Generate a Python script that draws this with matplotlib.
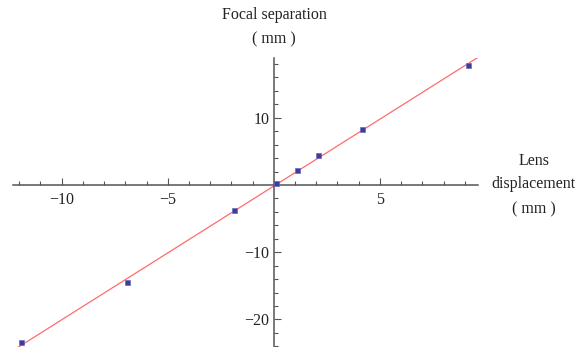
import matplotlib
matplotlib.use("Agg")
import matplotlib.pyplot as plt
from matplotlib.ticker import MultipleLocator, FixedLocator

plt.rcParams['font.family'] = ['Liberation Serif', 'DejaVu Serif']

# Measured data: lens displacement vs focal separation (mm)
lens_disp = [-11.9, -6.9, -1.9, 0.1, 1.1, 2.1, 4.15, 9.15]
focal_sep = [-23.4, -14.5, -3.65, 0.25, 2.25, 4.45, 8.35, 17.9]

# Linear fit parameters
fit_slope = 1.99
fit_intercept = -0.15

x_ticks = [-10, -5, 5]
y_ticks = [-20, -10, 10]

xlim = (-12.3, 9.6)
ylim = (-24.1, 18.9)

W, H = 576, 347
fig = plt.figure(figsize=(W / 100, H / 100), dpi=100)
ax = fig.add_axes([12.9 / W, 0.0, (477.5 - 12.9) / W, (H - 58) / H])
ax.set_xlim(*xlim)
ax.set_ylim(*ylim)

axis_color = '#555555'
text_color = '#222222'

# Axes crossing at the origin
for side in ('top', 'right'):
    ax.spines[side].set_visible(False)
ax.spines['left'].set_position(('data', 0))
ax.spines['bottom'].set_position(('data', 0))
for side in ('left', 'bottom'):
    ax.spines[side].set_color(axis_color)
    ax.spines[side].set_linewidth(1.1)

ax.xaxis.set_major_locator(FixedLocator(x_ticks))
ax.xaxis.set_minor_locator(MultipleLocator(1))
ax.yaxis.set_major_locator(FixedLocator(y_ticks))
ax.yaxis.set_minor_locator(MultipleLocator(2))
ax.tick_params(which='both', direction='in', color=axis_color, width=0.8)
ax.tick_params(which='major', length=5, labelsize=11.5, labelcolor=text_color)
ax.tick_params(which='minor', length=3)
ax.tick_params(axis='x', which='major', pad=5)
ax.tick_params(axis='y', which='major', pad=3)

# Fit line spanning the full horizontal range
fx = list(xlim)
fy = [fit_slope * v + fit_intercept for v in fx]
ax.plot(fx, fy, color='#ff6b6b', linewidth=0.9, zorder=2, clip_on=True)

# Data points
ax.plot(lens_disp, focal_sep, linestyle='none', marker='s', markersize=3.6,
        markerfacecolor='#3d3d99', markeredgecolor='#6a6ac0',
        markeredgewidth=0.5, zorder=3, clip_on=False)

# Axis labels, Mathematica style
fs = 11.5
fig.text(274 / W, 1 - 15 / H, 'Focal separation', ha='center', va='center',
         fontsize=fs, color=text_color)
fig.text(274 / W, 1 - 39 / H, '( mm )', ha='center', va='center',
         fontsize=fs, color=text_color)
fig.text(534 / W, 1 - 161 / H, 'Lens', ha='center', va='center',
         fontsize=fs, color=text_color)
fig.text(533 / W, 1 - 184 / H, 'displacement', ha='center', va='center',
         fontsize=fs, color=text_color)
fig.text(534 / W, 1 - 209 / H, '( mm )', ha='center', va='center',
         fontsize=fs, color=text_color)

fig.savefig('out.png', dpi=100)
